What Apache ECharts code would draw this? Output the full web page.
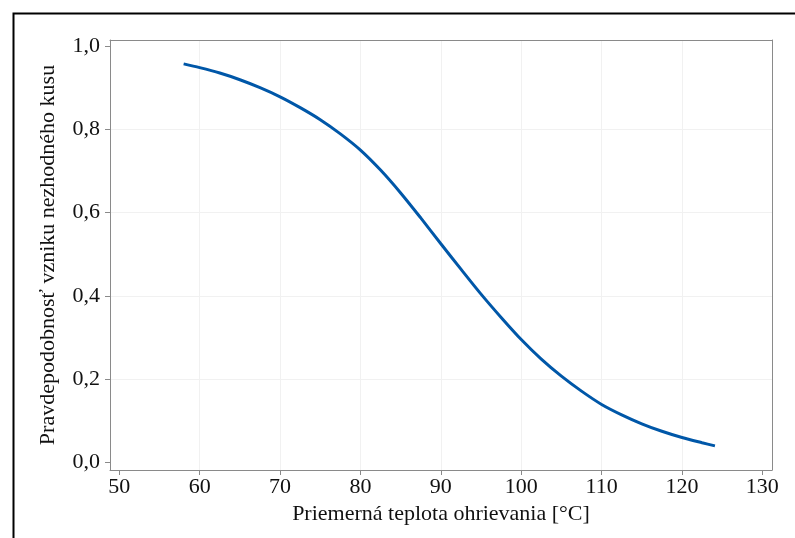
<!DOCTYPE html>
<html>
<head>
<meta charset="utf-8">
<script src="https://cdn.jsdelivr.net/npm/echarts@6/dist/echarts.min.js"></script>
<style>html,body{margin:0;padding:0;background:#fff;}#c{width:795px;height:538px;}</style>
</head>
<body>
<div id="c"></div>
<script>
// Data
const temperature = [58, 60, 62.5, 65, 67.5, 70, 72.5, 75, 77.5, 80, 82.5, 85, 87.5, 90, 92.5, 95, 97.5, 100, 102.5, 105, 107.5, 110, 112.5, 115, 117.5, 120, 122.5, 124.1];
const probability = [0.957, 0.948, 0.935, 0.919, 0.900, 0.878, 0.852, 0.823, 0.789, 0.750, 0.702, 0.647, 0.587, 0.525, 0.464, 0.404, 0.348, 0.295, 0.248, 0.207, 0.171, 0.139, 0.114, 0.0925, 0.0745, 0.0595, 0.0470, 0.0395];
const xTicks = [50, 60, 70, 80, 90, 100, 110, 120, 130];
const yTicks = [0, 0.2, 0.4, 0.6, 0.8, 1.0];
const xTitle = 'Priemerná teplota ohrievania [°C]';
const yTitle = 'Pravdepodobnosť vzniku nezhodného kusu';

const FONT = '"Liberation Serif", "Times New Roman", serif';
const frameColor = '#8a8a8a';
const gridColor = '#f1f1f1';
const textColor = '#111';
const xRange = [48.84, 131.2];
const yRange = [-0.0185, 1.0144];

const chart = echarts.init(document.getElementById('c'), null, {renderer: 'canvas'});
const fmtY = v => v.toFixed(1).replace('.', ',');

chart.setOption({
  animation: false,
  backgroundColor: '#fff',
  graphic: [{
    type: 'rect', left: 11, top: 11, shape: {width: 820, height: 560},
    style: {fill: 'none', stroke: '#000', lineWidth: 2}, z: 100
  }],
  grid: {left: 110, right: 23, top: 40, bottom: 68, containLabel: false},
  xAxis: [{
    type: 'value', min: xRange[0], max: xRange[1], position: 'bottom',
    name: xTitle, nameLocation: 'middle', nameGap: 29,
    nameTextStyle: {fontFamily: FONT, fontSize: 22, color: textColor},
    axisLine: {show: true, onZero: false, lineStyle: {color: frameColor, width: 1}},
    axisTick: {show: true, customValues: xTicks, length: 5, inside: false, lineStyle: {color: frameColor}},
    axisLabel: {customValues: xTicks, margin: 6, fontFamily: FONT, fontSize: 22, color: textColor},
    splitLine: {show: true, showMinLine: false, showMaxLine: false, lineStyle: {color: gridColor, width: 1}}
  }, {
    type: 'value', min: xRange[0], max: xRange[1], position: 'top',
    axisLine: {show: true, onZero: false, lineStyle: {color: frameColor, width: 1}},
    axisTick: {show: false}, axisLabel: {show: false}, splitLine: {show: false}
  }],
  yAxis: [{
    type: 'value', min: yRange[0], max: yRange[1], position: 'left',
    name: yTitle, nameLocation: 'middle', nameGap: 51,
    nameTextStyle: {fontFamily: FONT, fontSize: 22, color: textColor},
    axisLine: {show: true, onZero: false, lineStyle: {color: frameColor, width: 1}},
    axisTick: {show: true, customValues: yTicks, length: 5, inside: false, lineStyle: {color: frameColor}},
    axisLabel: {customValues: yTicks, margin: 10, formatter: fmtY, fontFamily: FONT, fontSize: 22, color: textColor},
    splitLine: {show: true, showMinLine: false, showMaxLine: false, lineStyle: {color: gridColor, width: 1}}
  }, {
    type: 'value', min: yRange[0], max: yRange[1], position: 'right',
    axisLine: {show: true, onZero: false, lineStyle: {color: frameColor, width: 1}},
    axisTick: {show: false}, axisLabel: {show: false}, splitLine: {show: false}
  }],
  series: [{
    type: 'line',
    data: temperature.map((t, i) => [t, probability[i]]),
    smooth: 0.3,
    showSymbol: false,
    lineStyle: {color: '#0057A8', width: 3},
    z: 3
  }]
});
</script>
</body>
</html>
